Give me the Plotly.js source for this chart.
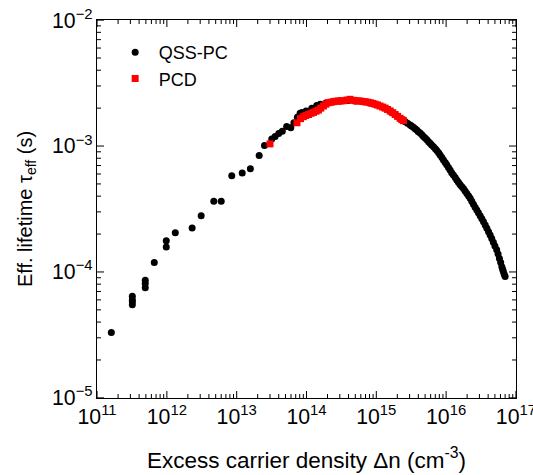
<!DOCTYPE html>
<html><head><meta charset="utf-8">
<script src="https://cdn.plot.ly/plotly-3.0.1.min.js"></script>
<style>html,body{margin:0;padding:0;background:#fff}#c{width:533px;height:475px}</style>
</head><body><div id="c"></div>
<script>
const qssX = [1.6e11,3.2e11,3.2e11,3.2e11,3.2e11,4.9e11,4.9e11,4.9e11,6.6e11,9.8e11,9.8e11,1.32e12,2.3e12,3.1e12,4.7e12,6.0e12,8.5e12,1.2e13,1.57e13,2.1e13,2.5e13,3.18e13,3.55e13,4.0e13,4.5e13,5.2e13,5.96e13,6.6e13,7.4e13,8.1e13,8.65e13,9.87e13,1.19e14,1.4e14,1.57e14,1.9e14,2.4e14,3e14,4e14,5e14,6.5e14,8e14,1e15,1.3e15,1.6e15,2e15,2.4e15,
2.6e15,2.8e15,3.05e15,3.2e15,3.4e15,3.6e15,3.8e15,4.0e15,4.25e15,4.5e15,4.73e15,5.0e15,5.3e15,5.6e15,5.9e15,6.2e15,6.6e15,7.0e15,7.36e15,7.8e15,8.2e15,8.7e15,9.15e15,9.7e15,1.02e16,1.08e16,1.14e16,1.2e16,1.27e16,1.35e16,1.42e16,1.5e16,1.58e16,1.67e16,1.77e16,1.87e16,1.98e16,2.1e16,2.21e16,2.33e16,2.46e16,2.6e16,2.75e16,2.9e16,3.07e16,3.25e16,3.43e16,3.63e16,3.83e16,4.05e16,4.27e16,4.5e16,4.75e16,5.0e16,5.3e16,5.55e16,5.8e16,6.05e16,6.28e16,6.45e16,6.6e16,6.8e16,7.0e16];
const qssY = [3.3e-5,6.4e-5,6.0e-5,5.8e-5,5.5e-5,8.6e-5,8.1e-5,7.5e-5,1.19e-4,1.77e-4,1.58e-4,2.05e-4,2.23e-4,2.8e-4,3.64e-4,3.64e-4,5.8e-4,6.1e-4,6.6e-4,8.4e-4,1.01e-3,1.14e-3,1.19e-3,1.26e-3,1.31e-3,1.43e-3,1.40e-3,1.53e-3,1.69e-3,1.82e-3,1.85e-3,1.9e-3,2.0e-3,2.1e-3,2.15e-3,2.2e-3,2.25e-3,2.28e-3,2.3e-3,2.28e-3,2.25e-3,2.2e-3,2.13e-3,2.01e-3,1.88e-3,1.73e-3,1.6e-3,
1.56e-3,1.52e-3,1.47e-3,1.44e-3,1.41e-3,1.37e-3,1.34e-3,1.30e-3,1.27e-3,1.23e-3,1.19e-3,1.16e-3,1.12e-3,1.08e-3,1.05e-3,1.02e-3,9.85e-4,9.5e-4,9.2e-4,8.85e-4,8.5e-4,8.1e-4,7.74e-4,7.4e-4,7.1e-4,6.75e-4,6.45e-4,6.15e-4,5.9e-4,5.62e-4,5.37e-4,5.15e-4,4.95e-4,4.78e-4,4.6e-4,4.4e-4,4.2e-4,4.02e-4,3.85e-4,3.65e-4,3.45e-4,3.27e-4,3.1e-4,2.95e-4,2.8e-4,2.65e-4,2.5e-4,2.36e-4,2.22e-4,2.09e-4,1.97e-4,1.84e-4,1.72e-4,1.61e-4,1.5e-4,1.39e-4,1.28e-4,1.19e-4,1.1e-4,1.05e-4,1.01e-4,9.6e-5,9.2e-5];
const pcdX = [3.0e13,7.3e13,8.2e13,9.0e13,9.8e13,1.07e14,1.16e14,1.26e14,1.37e14,1.48e14,1.6e14,1.75e14,1.9e14,2.06e14,2.25e14,2.43e14,2.65e14,2.87e14,3.1e14,3.38e14,3.8e14,4.2e14,4.6e14,4.97e14,5.4e14,5.86e14,6.4e14,6.9e14,7.5e14,8.2e14,8.9e14,9.6e14,1.04e15,1.13e15,1.23e15,1.34e15,1.45e15,1.58e15,1.72e15,1.86e15,2.02e15,2.19e15,2.32e15,2.45e15];
const pcdY = [1.04e-3,1.53e-3,1.65e-3,1.71e-3,1.75e-3,1.78e-3,1.82e-3,1.85e-3,1.89e-3,1.93e-3,2.0e-3,2.08e-3,2.15e-3,2.21e-3,2.23e-3,2.25e-3,2.27e-3,2.28e-3,2.28e-3,2.29e-3,2.32e-3,2.35e-3,2.31e-3,2.29e-3,2.28e-3,2.28e-3,2.26e-3,2.25e-3,2.23e-3,2.21e-3,2.18e-3,2.15e-3,2.12e-3,2.08e-3,2.04e-3,2.0e-3,1.95e-3,1.9e-3,1.84e-3,1.78e-3,1.72e-3,1.66e-3,1.62e-3,1.59e-3];
const seriesNames = ['QSS-PC','PCD'];
const xDecades = [11,17];
const yDecades = [-5,-2];
const xTitle = 'Excess carrier density \u0394n (cm<sup>-3</sup>)';
const yTitle = 'Eff. lifetime \u03c4<sub>eff</sub> (s)';

const font = 'Liberation Sans, Arial, Helvetica, sans-serif';

// tick marks (inside, on all four sides) built from the decade limits
function tickShapes(axisLetter, r){
  const shapes = [];
  const other = axisLetter === 'x' ? 'y' : 'x';
  const add = (v, len) => {
    [[0, len], [1, -len]].forEach(([anchor, l]) => {
      const s = {type:'line', layer:'above', line:{color:'#000', width:1}};
      s[axisLetter+'ref'] = axisLetter;
      s[other+'ref'] = 'paper';
      s[other+'sizemode'] = 'pixel';
      s[other+'anchor'] = anchor;
      s[axisLetter+'0'] = v; s[axisLetter+'1'] = v;
      s[other+'0'] = 0; s[other+'1'] = l;
      shapes.push(s);
    });
  };
  for(let e = r[0]; e <= r[1]; e++){
    add(Math.pow(10, e), 7);
    if(e < r[1]) for(let d = 2; d <= 9; d++) add(d*Math.pow(10, e), 4);
  }
  return shapes;
}
function axis(r, title, tsize){
  return {type:'log', range:[r[0]-0.001, r[1]+0.001], showgrid:false, zeroline:false, showline:true, mirror:true,
    linecolor:'#000', linewidth:1, ticks:'', dtick:1, exponentformat:'power', ticklabeloverflow:'allow',
    tickfont:{family:font,size:17,color:'#000'},
    title:{text:title, font:{family:font,size:tsize,color:'#000'}}};
}
const data = [
  {x:qssX, y:qssY, name:seriesNames[0], type:'scatter', mode:'markers',
   marker:{symbol:'circle', size:7, color:'#000'}},
  {x:pcdX, y:pcdY, name:seriesNames[1], type:'scatter', mode:'markers',
   marker:{symbol:'square', size:7, color:'#ff0000'}}
];
const xa = axis(xDecades, xTitle, 22.5); xa.title.standoff = 24;
const ya = axis(yDecades, yTitle, 20); ya.title.standoff = 14;
const layout = {
  width:533, height:475, margin:{l:97,r:17,t:20,b:77},
  paper_bgcolor:'#fff', plot_bgcolor:'#fff', font:{family:font,color:'#000'},
  showlegend:true,
  legend:{x:0.035, y:0.963, xanchor:'left', yanchor:'top', bgcolor:'rgba(0,0,0,0)', font:{family:font,size:18,color:'#000'}, itemwidth:37, tracegroupgap:0},
  xaxis:xa, yaxis:ya,
  shapes: tickShapes('x', xDecades).concat(tickShapes('y', yDecades))
};
Plotly.newPlot('c', data, layout, {staticPlot:true, displayModeBar:false});
</script></body></html>
